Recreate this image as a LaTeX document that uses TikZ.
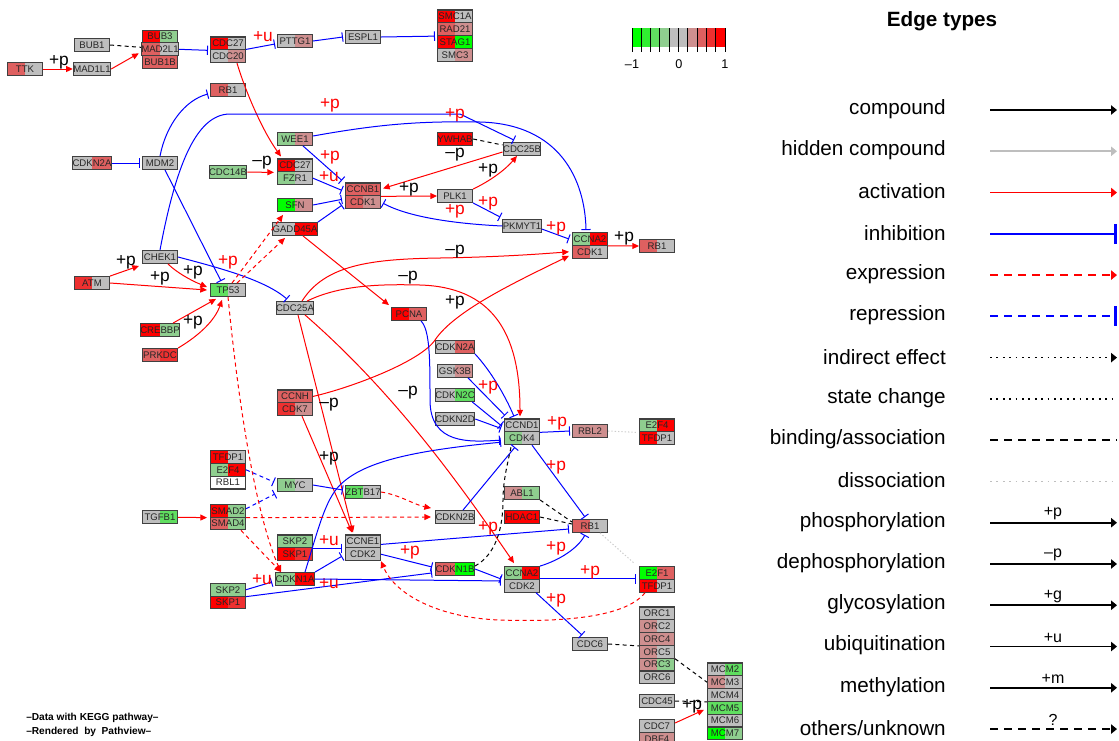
\documentclass[tikz,border=0pt]{standalone}
\usepackage{fontspec}
\setmainfont{Liberation Sans}
\usetikzlibrary{arrows.meta}

\definecolor{kgray}{RGB}{190,190,190}
\definecolor{kred}{RGB}{255,0,0}
\definecolor{kred2}{RGB}{238,48,48}
\definecolor{kred3}{RGB}{222,96,96}
\definecolor{kpink}{RGB}{206,143,143}
\definecolor{kgreen}{RGB}{0,255,0}
\definecolor{kgreen2}{RGB}{48,238,48}
\definecolor{kgreen3}{RGB}{96,222,96}
\definecolor{kgreen4}{RGB}{143,206,143}

\newcommand{\gfont}{\fontsize{7.2}{8}\selectfont}
\newcommand{\efont}{\fontsize{13}{14}\selectfont}
\newcommand{\lfont}{\fontsize{15.5}{18}\selectfont}
\newcommand{\tfont}{\fontsize{12}{13}\selectfont}

\tikzset{
  gene/.style 2 args={draw=black!75, line width=0.8pt, minimum width=26.25pt,
    minimum height=9.6pt, inner sep=0pt, text=black!85, font=\gfont,
    path picture={\fill[#1] (path picture bounding box.south west) rectangle (path picture bounding box.north);
                  \fill[#2] (path picture bounding box.south) rectangle (path picture bounding box.north east);}},
  act/.style={draw=red, line width=0.75pt, -{Triangle[length=5pt,width=4.5pt]}},
  inh/.style={draw=blue, line width=0.75pt, -{Bar[width=7pt,line width=0.75pt]}},
  expr/.style={act, dash pattern=on 3pt off 2.5pt},
  repr/.style={inh, dash pattern=on 3pt off 2.5pt},
  bind/.style={draw=black, line width=0.75pt, dash pattern=on 3pt off 2.5pt},
  diss/.style={draw=black!20, line width=0.75pt, dash pattern=on 1pt off 1.5pt},
  blab/.style={font=\efont, text=black, inner sep=0pt},
  rlab/.style={blab, text=red},
  lglab/.style={font=\lfont, inner sep=0pt, anchor=east},
  lgtag/.style={font=\tfont, inner sep=0pt},
  lgcmp/.style={draw=black, line width=1.3pt, -{Triangle[length=4.5pt,width=7pt]}},
  lghid/.style={lgcmp, draw=kgray},
  lgact/.style={lgcmp, draw=red},
  lginh/.style={draw=blue, line width=1.3pt, -{Bar[width=15pt,line width=2pt]}},
  lgexp/.style={lgact, dash pattern=on 6pt off 4.5pt},
  lgrep/.style={lginh, dash pattern=on 6pt off 4.5pt},
  lgind/.style={lgcmp, dash pattern=on 1.3pt off 3.5pt},
  lgsta/.style={draw=black, line width=1.3pt, dash pattern=on 1.3pt off 3.5pt},
  lgbin/.style={draw=black, line width=1.3pt, dash pattern=on 6pt off 4.5pt},
  lgdis/.style={draw=black!25, line width=1.3pt, dash pattern=on 1.3pt off 3.5pt},
  lgunk/.style={lgcmp, dash pattern=on 6pt off 4.5pt},
}

\begin{document}
\begin{tikzpicture}[x=0.75pt, y=-0.75pt]
\useasboundingbox (0,0) rectangle (1119,740);

% genes, top
\node[gene={kred3}{kgray}] (ttk) at (25,69) {TTK};
\node[gene={kgray}{kgray}] (bub1) at (92,45) {BUB1};
\node[gene={kgray}{kgray}] (mad1l1) at (92,69) {MAD1L1};
\node[gene={kred}{kgreen4}] (bub3) at (160,36.5) {BUB3};
\node[gene={kred3}{kgray}] (mad2l1) at (160,49.3) {MAD2L1};
\node[gene={kred3}{kred3}] (bub1b) at (160,62.1) {BUB1B};
\node[gene={kred}{kgray}] (cdc27a) at (228,43.4) {CDC27};
\node[gene={kgray}{kpink}] (cdc20) at (228,56.2) {CDC20};
\node[gene={kgray}{kpink}] (pttg1) at (295,41) {PTTG1};
\node[gene={kgray}{kgray}] (espl1) at (363,37) {ESPL1};
\node[gene={kred}{kgray}] (smc1a) at (455,16.4) {SMC1A};
\node[gene={kred3}{kpink}] (rad21) at (455,29.2) {RAD21};
\node[gene={kred}{kgreen}] (stag1) at (455,42) {STAG1};
\node[gene={kgray}{kpink}] (smc3) at (455,54.8) {SMC3};
\node[gene={kred3}{kgray}] (rb1a) at (228,90) {RB1};
\node[gene={kgray}{kred3}] (cdkn2aa) at (92,163) {CDKN2A};
\node[gene={kgray}{kgray}] (mdm2) at (160,163) {MDM2};
\node[gene={kgreen4}{kpink}] (wee1) at (295,139) {WEE1};
\node[gene={kgreen4}{kgreen4}] (cdc14b) at (228,172) {CDC14B};
\node[gene={kred}{kgray}] (cdc27b) at (295,165.4) {CDC27};
\node[gene={kgreen4}{kgray}] (fzr1) at (295,178.2) {FZR1};
\node[gene={kgreen}{kpink}] (sfn) at (295,205) {SFN};
\node[gene={kgray}{kred}] (gadd45a) at (295,229) {GADD45A};
\node[gene={kred3}{kred3}] (ccnb1) at (363,189.4) {CCNB1};
\node[gene={kred3}{kpink}] (cdk1a) at (363,202.2) {CDK1};
\node[gene={kred}{kred}] (ywhab) at (455,139) {YWHAB};
\node[gene={kgray}{kgray}] (cdc25b) at (522,149) {CDC25B};
\node[gene={kgray}{kgray}] (plk1) at (455,196) {PLK1};
\node[gene={kgray}{kgray}] (pkmyt1) at (522,226) {PKMYT1};
\node[gene={kgreen4}{kred}] (ccna2a) at (590,239) {CCNA2};
\node[gene={kred3}{kgray}] (cdk1b) at (590,251.8) {CDK1};
\node[gene={kred3}{kgray}] (rb1b) at (657,246) {RB1};

% genes, middle
\node[gene={kgray}{kgray}] (chek1) at (160,257) {CHEK1};
\node[gene={kred2}{kgray}] (atm) at (92,283) {ATM};
\node[gene={kgreen3}{kgray}] (tp53) at (228,290) {TP53};
\node[gene={kred}{kgreen4}] (crebbp) at (160,330) {CREBBP};
\node[gene={kred3}{kred2}] (prkdc) at (160,355) {PRKDC};
\node[gene={kgray}{kgray}] (cdc25a) at (295,308) {CDC25A};
\node[gene={kred}{kred3}] (pcna) at (409,314) {PCNA};
\node[gene={kgray}{kred3}] (cdkn2ab) at (455,347) {CDKN2A};
\node[gene={kgray}{kpink}] (gsk3b) at (455,371) {GSK3B};
\node[gene={kgray}{kgreen3}] (cdkn2c) at (455,395) {CDKN2C};
\node[gene={kgray}{kgray}] (cdkn2d) at (455,419) {CDKN2D};
\node[gene={kgray}{kgray}] (ccnd1) at (522,425.4) {CCND1};
\node[gene={kgreen4}{kgray}] (cdk4) at (522,438.2) {CDK4};
\node[gene={kpink}{kpink}] (rbl2) at (590,431) {RBL2};
\node[gene={kgreen4}{kred}] (e2f4a) at (657,425.4) {E2F4};
\node[gene={kred}{kgray}] (tfdp1a) at (657,438.2) {TFDP1};
\node[gene={kred3}{kred3}] (ccnh) at (295,396.4) {CCNH};
\node[gene={kred2}{kpink}] (cdk7) at (295,409.2) {CDK7};

% genes, bottom
\node[gene={kred}{kgray}] (tfdp1b) at (228,457) {TFDP1};
\node[gene={kgreen4}{kred}] (e2f4b) at (228,469.8) {E2F4};
\node[gene={white}{white}] (rbl1) at (228,482.6) {RBL1};
\node[gene={kgreen4}{kgray}] (myc) at (295,485) {MYC};
\node[gene={kgreen3}{kgray}] (zbtb17) at (363,492) {ZBTB17};
\node[gene={kgray}{kgreen3}] (tgfb1) at (160,517) {TGFB1};
\node[gene={kred}{kgreen4}] (smad2) at (228,510.7) {SMAD2};
\node[gene={kred3}{kgreen4}] (smad4) at (228,523.5) {SMAD4};
\node[gene={kgreen4}{kgreen4}] (skp2a) at (295,541.4) {SKP2};
\node[gene={kred}{kred2}] (skp1a) at (295,554.2) {SKP1};
\node[gene={kgray}{kgray}] (ccne1) at (363,541.4) {CCNE1};
\node[gene={kgray}{kgray}] (cdk2a) at (363,554.2) {CDK2};
\node[gene={kgreen4}{kred}] (cdkn1a) at (295,579) {CDKN1A};
\node[gene={kgreen4}{kgreen4}] (skp2b) at (228,589.7) {SKP2};
\node[gene={kred}{kred2}] (skp1b) at (228,602.5) {SKP1};
\node[gene={kgray}{kgray}] (cdkn2b) at (455,517) {CDKN2B};
\node[gene={kpink}{kgreen4}] (abl1) at (522,493) {ABL1};
\node[gene={kred}{kred}] (hdac1) at (522,517) {HDAC1};
\node[gene={kred3}{kgray}] (rb1c) at (590,526) {RB1};
\node[gene={kred3}{kgreen}] (cdkn1b) at (455,569) {CDKN1B};
\node[gene={kgreen4}{kred}] (ccna2b) at (522,573) {CCNA2};
\node[gene={kgray}{kgray}] (cdk2b) at (522,585.8) {CDK2};
\node[gene={kgreen}{kred3}] (e2f1) at (657,573) {E2F1};
\node[gene={kred}{kgray}] (tfdp1c) at (657,585.8) {TFDP1};
\node[gene={kgray}{kgray}] (cdc6) at (590,644) {CDC6};
\node[gene={kgray}{kgray}] (orc1) at (657,613.4) {ORC1};
\node[gene={kpink}{kgray}] (orc2) at (657,626.2) {ORC2};
\node[gene={kpink}{kpink}] (orc4) at (657,639) {ORC4};
\node[gene={kpink}{kgray}] (orc5) at (657,651.8) {ORC5};
\node[gene={kpink}{kgreen4}] (orc3) at (657,664.6) {ORC3};
\node[gene={kgray}{kgray}] (orc6) at (657,677.4) {ORC6};
\node[gene={kgray}{kgreen3}] (mcm2) at (725,669.4) {MCM2};
\node[gene={kpink}{kgray}] (mcm3) at (725,682.2) {MCM3};
\node[gene={kgray}{kgray}] (mcm4) at (725,695) {MCM4};
\node[gene={kgreen3}{kgreen3}] (mcm5) at (725,707.8) {MCM5};
\node[gene={kgray}{kgray}] (mcm6) at (725,720.6) {MCM6};
\node[gene={kgreen}{kgreen4}] (mcm7) at (725,733.4) {MCM7};
\node[gene={kgray}{kgray}] (cdc45) at (657,701) {CDC45};
\node[gene={kgray}{kgray}] (cdc7) at (657,726) {CDC7};
\node[gene={kpink}{kpink}] (dbf4) at (657,738.8) {DBF4};

% edges, top
\draw[act] (ttk) -- (mad1l1);
\node[blab] (l01) at (59,62) {+p};
\draw[act] (mad1l1.east) -- ([shift={(-2,4)}]mad2l1.west);
\draw[bind] (bub1.east) -- ([shift={(0,-2)}]mad2l1.west);
\draw[inh] (mad2l1.east) -- ([shift={(-2,0)}]cdc27a.south west);
\draw[inh] ([shift={(0,6)}]cdc27a.east) -- ([shift={(-2,3)}]pttg1.west);
\node[rlab] (l02) at (263,37) {+u};
\draw[inh] (pttg1.east) -- ([shift={(-2,0)}]espl1.west);
\draw[inh] (espl1.east) -- ([shift={(-2,0)}]rad21.south west);
\draw[act] ([shift={(9,0)}]cdc20.south) .. controls (245,90) and (262,130) .. ([shift={(-14,-2)}]cdc27b.north);

\draw[inh] (mdm2.north) .. controls (166,125) and (185,100) .. ([shift={(-2,4)}]rb1a.west);
\draw[inh] ([shift={(5,0)}]mdm2.south) -- ([shift={(-7,-2)}]tp53.north);
\draw[inh] (cdkn2aa) -- ([shift={(-2,0)}]mdm2.west);
\draw[inh] (chek1.north) .. controls (175,170) and (195,114) .. (230,114) -- (460,114) -- ([shift={(-8,-2)}]cdc25b.north);
\node[rlab] (l03) at (330,105) {+p};
\node[rlab] (l04) at (455,115) {+p};

\draw[inh] ([shift={(0,-3)}]wee1.east) .. controls (380,124) and (420,121) .. (480,122) .. controls (560,124) and (585,180) .. ([shift={(-4,-2)}]ccna2a.north);
\draw[inh] ([shift={(8,0)}]wee1.south) -- ([shift={(-3,-2)}]ccnb1.north west);
\node[rlab] (l05) at (330,157) {+p};
\draw[act] (cdc14b) -- ([shift={(-3,0)}]cdc27b.south west);
\node[blab] (l06) at (262,163) {–p};
\draw[inh] (fzr1.east) -- ([shift={(-3,1)}]ccnb1.west);
\node[rlab] (l07) at (329,177) {+u};
\draw[inh] (sfn.east) -- ([shift={(-3,3)}]ccnb1.south west);
\draw[inh] (gadd45a.north east) -- ([shift={(-3,3)}]cdk1a.west);
\draw[bind] (ywhab.east) -- ([shift={(0,-4)}]cdc25b.west);
\draw[act] ([shift={(0,3)}]cdc25b.west) -- ([shift={(2,-1)}]ccnb1.east);
\node[blab] (l08) at (455,155) {–p};
\draw[act] (ccnb1.south east) -- (plk1.west);
\node[blab] (l09) at (409,189) {+p};
\draw[act] (plk1.north east) .. controls (490,181) and (505,170) .. ([shift={(-5,0)}]cdc25b.south);
\node[blab] (l10) at (488,170) {+p};
\draw[inh] (plk1.south east) -- ([shift={(-2,-2)}]pkmyt1.north west);
\node[rlab] (l11) at (488,203) {+p};
\draw[inh] (pkmyt1.west) .. controls (460,224) and (410,218) .. ([shift={(2,1)}]cdk1a.east);
\node[rlab] (l12) at (455,211) {+p};
\draw[inh] ([shift={(0,3)}]pkmyt1.east) -- ([shift={(-3,0)}]ccna2a.west);
\node[rlab] (l13) at (556,228) {+p};
\draw[act] (ccna2a.south east) -- (rb1b.west);
\node[blab] (l14) at (624,238) {+p};

% edges, p53 and cdc25a
\draw[act] (atm.north east) -- ([shift={(-3,2)}]chek1.south west);
\node[blab] (l15) at (126,262) {+p};
\draw[act] (atm.east) -- ([shift={(-3,0)}]tp53.west);
\node[blab] (l16) at (160,278) {+p};
\draw[act] ([shift={(8,0)}]chek1.south) .. controls (176,272) and (190,280) .. ([shift={(-3,-3)}]tp53.west);
\node[blab] (l17) at (193,272) {+p};
\draw[inh] (chek1.east) .. controls (220,268) and (265,280) .. ([shift={(-8,-2)}]cdc25a.north);
\draw[expr] ([shift={(4,0)}]tp53.north) -- ([shift={(-12,3)}]sfn.south);
\draw[expr] ([shift={(9,0)}]tp53.north) -- ([shift={(-10,2)}]gadd45a.south);
\node[rlab] (l18) at (228,262) {+p};
\draw[act] ([shift={(13,0)}]crebbp.north) -- ([shift={(-12,2)}]tp53.south);
\draw[act] (prkdc.north east) .. controls (200,335) and (215,320) .. ([shift={(-6,3)}]tp53.south);
\node[blab] (l19) at (193,322) {+p};
\draw[expr] (tp53.south) .. controls (240,420) and (258,520) .. ([shift={(-14,0)}]cdkn1a.north);
\draw[expr] ([shift={(-5,0)}]smad4.south east) -- ([shift={(-14,0)}]cdkn1a.north);

\draw[act] ([shift={(8,0)}]gadd45a.south) -- ([shift={(-2,-2)}]pcna.north west);
\draw[act] ([shift={(7,0)}]cdc25a.north) .. controls (325,265) and (370,259) .. (440,258) .. controls (500,257) and (540,254) .. ([shift={(-3,0)}]cdk1b.west);
\node[blab] (l20) at (455,252) {–p};
\draw[act] (ccnh.east) .. controls (350,388) and (420,362) .. (435,340) .. controls (455,310) and (520,280) .. ([shift={(-3,4)}]cdk1b.west);
\node[blab] (l21) at (455,302) {+p};
\draw[act] ([shift={(12,0)}]cdc25a.north) .. controls (340,285) and (380,284) .. (420,285) .. controls (490,287) and (520,330) .. ([shift={(-2,-2)}]ccnd1.north);
\node[blab] (l22) at (408,278) {–p};
\draw[act] ([shift={(3,0)}]cdc25a.south) -- ([shift={(-10,-2)}]ccne1.north);
\draw[act] ([shift={(10,0)}]cdc25a.south) .. controls (390,389) and (453,474) .. ([shift={(-8,-3)}]ccna2b.north);
\draw[act] ([shift={(7,0)}]cdk7.south) -- ([shift={(-11,-2)}]ccne1.north);
\node[blab] (l23) at (329,458) {+p};
\node[blab] (l24) at (329,405) {–p};

% edges, cyclin D block
\draw[inh] ([shift={(12,0)}]pcna.south) .. controls (430,330) and (430,360) .. (430,400) .. controls (430,445) and (470,442) .. ([shift={(-4,2)}]cdk4.west);
\node[blab] (l25) at (408,393) {–p};
\draw[inh] (cdkn2ab.south east) .. controls (490,370) and (505,395) .. ([shift={(-8,-2)}]ccnd1.north);
\draw[inh] ([shift={(-5,0)}]gsk3b.south east) -- ([shift={(1,-3)}]ccnd1.north west);
\node[rlab] (l26) at (488,387) {+p};
\draw[inh] ([shift={(-3,0)}]cdkn2c.south east) -- ([shift={(-3,0)}]ccnd1.west);
\draw[inh] (cdkn2d.east) -- ([shift={(-3,3)}]ccnd1.west);
\draw[inh] (ccnd1.south east) -- ([shift={(-2,0)}]rbl2.west);
\node[rlab] (l27) at (557,423) {+p};
\draw[diss] (rbl2.east) -- ([shift={(-3,0)}]e2f4a.south west);
\draw[inh] ([shift={(10,0)}]cdk4.south) -- ([shift={(-5,-2)}]rb1c.north);
\node[rlab] (l28) at (556,467) {+p};
\draw[inh] ([shift={(8,0)}]cdkn2b.north) -- ([shift={(-7,2)}]cdk4.south);
\draw[inh] ([shift={(10,0)}]cdkn1a.north) .. controls (318,530) and (325,500) .. (340,485) .. controls (365,460) and (420,450) .. ([shift={(-3,4)}]cdk4.west);
\draw[bind] ([shift={(0,-3)}]cdkn1b.east) .. controls (495,555) and (503,530) .. (503,500) .. controls (503,480) and (508,462) .. ([shift={(-11,2)}]cdk4.south);

% edges, lower part
\draw[repr] (e2f4b.east) -- ([shift={(-3,-3)}]myc.west);
\draw[repr] ([shift={(0,-2)}]smad2.east) -- ([shift={(-2,2)}]myc.south west);
\draw[inh] (myc.east) -- ([shift={(-2,-2)}]zbtb17.west);
\draw[act] (tgfb1) -- ([shift={(-3,0)}]smad2.south west);
\draw[expr] (smad2.south east) -- ([shift={(-4,0)}]cdkn2b.west);
\draw[expr] (zbtb17.east) .. controls (400,495) and (415,505) .. ([shift={(-4,-9)}]cdkn2b.west);
\draw[inh] (skp2a.south east) -- ([shift={(-3,0)}]ccne1.south west);
\node[rlab] (l29) at (329,541) {+u};
\draw[inh] (cdkn1a.north east) -- ([shift={(-3,2)}]cdk2a.west);
\draw[inh] (skp2b.east) -- ([shift={(-3,3)}]cdkn1a.west);
\node[rlab] (l30) at (262,580) {+u};
\draw[inh] (skp2b.south east) -- ([shift={(-3,-3)}]cdkn1b.south west);
\node[rlab] (l31) at (329,584) {+u};
\draw[inh] (cdkn1a.east) -- ([shift={(-3,1)}]ccna2b.south west);
\draw[inh] (cdk2a.east) -- ([shift={(-3,-2)}]cdkn1b.west);
\node[rlab] (l32) at (410,552) {+p};
\draw[inh] ([shift={(0,3)}]ccne1.east) -- ([shift={(-3,3)}]rb1c.west);
\node[rlab] (l33) at (488,528) {+p};
\draw[inh] (cdkn1b.east) -- ([shift={(-3,-1)}]ccna2b.south west);
\draw[bind] (abl1.south east) -- ([shift={(0,-4)}]rb1c.west);
\draw[bind] (hdac1.east) -- ([shift={(0,-2)}]rb1c.west);
\draw[inh] (ccna2b.north east) .. controls (560,560) and (578,548) .. ([shift={(-5,2)}]rb1c.south);
\node[rlab] (l34) at (556,548) {+p};
\draw[inh] ([shift={(0,-1)}]ccna2b.south east) -- ([shift={(-3,-1)}]e2f1.south west);
\node[rlab] (l35) at (590,572) {+p};
\draw[inh] ([shift={(-4,0)}]cdk2b.south east) -- ([shift={(-8,-2)}]cdc6.north);
\node[rlab] (l36) at (556,600) {+p};
\draw[diss] ([shift={(-8,0)}]rb1c.south east) -- ([shift={(-5,-3)}]e2f1.north west);
\draw[expr] ([shift={(-12,0)}]tfdp1c.south) .. controls (625,618) and (560,622) .. (500,620) .. controls (440,618) and (395,595) .. (cdk2a.south east);
\draw[bind] (cdc6.east) -- (orc4.south west);
\draw[bind] (orc5.south east) -- (mcm3.west);
\draw[bind] (cdc45.east) -- ([shift={(0,-6)}]mcm5.west);
\draw[act] ([shift={(0,-3)}]cdc7.east) -- ([shift={(-3,2)}]mcm5.west);
\node[blab] (l37) at (692,706) {+p};

% colour key
\foreach \c [count=\i from 0] in {kgreen,kgreen2,kgreen3,kgreen4,kgray,kgray,kpink,kred3,kred2,kred}
  \fill[\c] (632+\i*9.3,28) rectangle (641.3+\i*9.3,47);
\foreach \i in {0,...,10}
  \draw[line width=0.7pt] (632+\i*9.3,28) -- (632+\i*9.3,52);
\node[font=\fontsize{9.5}{10}\selectfont] (cb1) at (632,64) {–1};
\node[font=\fontsize{9.5}{10}\selectfont] (cb2) at (679,64) {0};
\node[font=\fontsize{9.5}{10}\selectfont] (cb3) at (725,64) {1};

% footer
\node[font=\bfseries\fontsize{7.6}{8}\selectfont, anchor=west, inner sep=0pt] (foot1) at (26,718) {–Data with KEGG pathway–};
\node[font=\bfseries\fontsize{7.6}{8}\selectfont, anchor=west, inner sep=0pt] (foot2) at (26,732) {–Rendered~ by~ Pathview–};

% edge types
\node[font=\bfseries\lfont] (etitle) at (942,21) {Edge types};
\foreach \lab/\sty/\tag [count=\i from 0] in {compound/lgcmp/{}, hidden compound/lghid/{}, activation/lgact/{}, inhibition/lginh/{}, expression/lgexp/{}, repression/lgrep/{}, indirect effect/lgind/{}, state change/lgsta/{}, {binding/association}/lgbin/{}, dissociation/lgdis/{}, phosphorylation/lgcmp/{+p}, dephosphorylation/lgcmp/{–p}, glycosylation/lgcmp/{+g}, ubiquitination/lgcmp/{+u}, methylation/lgcmp/{+m}, {others/unknown}/lgunk/{?}}
{
  \node[lglab] (lt\i) at (946,109+41.27*\i) {\lab};
  \coordinate (la\i) at (990,110+41.27*\i);
  \coordinate (lb\i) at (1117,110+41.27*\i);
  \draw[\sty] (la\i) -- (lb\i);
  \node[lgtag] (lg\i) at (1053,101+41.27*\i) {\tag};
}

\end{tikzpicture}
\end{document}
